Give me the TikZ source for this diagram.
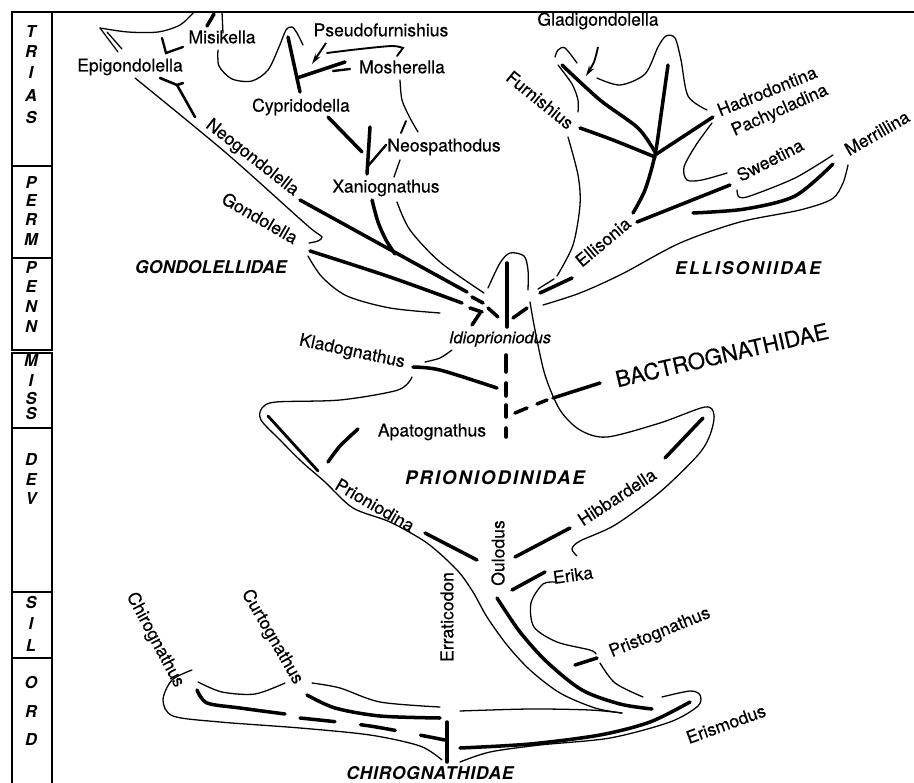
\documentclass[tikz,border=0pt]{standalone}
\usepackage{fontspec}
\setmainfont{TeX Gyre Heros}
\newfontfamily\taxonfont[FakeBold=0.4]{TeX Gyre Heros}
\usetikzlibrary{arrows.meta}

\begin{document}
\begin{tikzpicture}[x=0.03cm,y=-0.03cm,
    lineage/.style={line width=3pt,line cap=round},
    rim/.style={line width=1.1pt,line cap=round},
    pointer/.style={line width=1.6pt,-{Stealth[length=9pt,width=5pt]}},
    taxon/.style={font=\taxonfont\fontsize{15}{17}\selectfont,inner sep=1pt},
    family/.style={font=\fontsize{15}{17}\selectfont\bfseries\itshape},
    period/.style={font=\fontsize{14}{16}\selectfont\bfseries\itshape}]
    \useasboundingbox (0,0) rectangle (914,783);

    % time scale
    \draw[line width=2pt] (12,12) -- (914,12);
    \foreach \top/\bot in {12/166,166/258,258/350,353/428,428/592,592/658,658/800}
      \draw[line width=1.6pt] (12,\top) rectangle (52,\bot);
    \foreach \y/\l in {32/T,52/R,73/I,96/A,118/S,183/P,201/E,220/R,240/M,
                       268/P,287/E,307/N,327/N,361/M,381/I,399/S,414/S,
                       460/D,480/E,499/V,603/S,624/I,646/L,683/O,712/R,740/D}
      \node[period] at (31,\y) {\l};

    % Gondolellidae
    \draw[rim] plot[smooth] coordinates {(194,12) (180,25) (158,32) (128,32) (100,28)};
    \draw[rim] (100,28) -- (118,52);
    \draw[rim] (107,32) -- (122,49);
    \draw[lineage] (207,26) -- (214,14);
    \draw[rim] (222,12) -- (223,33);
    \draw[lineage,line width=2pt] (162,38) -- (166,53) -- (183,47);
    \draw[rim] plot[smooth] coordinates {(218,50) (219,66) (232,79) (252,81) (268,70) (279,47) (286,30) (292,27) (297,33) (303,45)};
    \draw[lineage] (288,37) -- (300,92);
    \draw[lineage] (297,78) -- (345,62);
    \draw[lineage,line width=2pt] (333,71) -- (350,69);
    \draw[pointer] (326,43) -- (312,64);
    \draw[rim,line width=1.6pt] plot[smooth] coordinates {(327,53) (360,49) (392,46) (403,48)} -- (397,56);
    \draw[rim] plot[smooth] coordinates {(400,80) (402,100) (410,118) (418,132)};
    \draw[rim,line width=1.6pt] (406,121) -- (401,133);
    \draw[rim] (400,160) -- (394,177);
    \draw[lineage] (328,117) -- (362,152);
    \draw[lineage] (370,127) -- (367,174);
    \draw[lineage,line width=2pt] (368,166) -- (386,145);
    \draw[lineage,line width=2.2pt] (160,78) -- (177,85) -- (195,117);
    \draw[lineage,line width=2.2pt] (177,85) -- (183,83);
    \draw[rim] plot[smooth] coordinates {(135,78) (225,152) (300,219) (314,231) (322,237) (318,241) (309,243)};
    \draw[lineage] (300,200) -- (467,292);
    \draw[lineage] (472,297) -- (483,303);
    \draw[lineage] plot[smooth] coordinates {(310,251) (390,277) (462,303)};
    \draw[lineage] (470,308) -- (482,312);
    \draw[rim] plot[smooth] coordinates {(308,256) (322,277) (347,296) (390,308) (440,313)};
    \draw[lineage] plot[smooth] coordinates {(372,200) (378,222) (386,240) (395,254)};
    \draw[rim] plot[smooth] coordinates {(397,202) (410,230) (440,262) (484,293)};

    % Idioprioniodus
    \draw[rim] plot[smooth] coordinates {(488,288) (500,263) (510,253) (524,256) (528,270) (528,290)};
    \draw[lineage] (507,263) -- (507,327);
    \draw[lineage] (480,313) -- (472,325);
    \draw[lineage] (488,308) -- (498,317);
    \draw[lineage] (513,318) -- (527,308);

    % Ellisoniidae
    \draw[rim] plot[smooth] coordinates {(555,57) (558,50) (565,48) (577,63)};
    \draw[rim] plot[smooth] coordinates {(558,65) (572,84) (578,100) (578,112)};
    \draw[rim] plot[smooth] coordinates {(568,137) (578,175) (580,205) (573,245) (557,276)};
    \draw[rim] (554,279) -- (538,289);
    \draw[lineage] plot[smooth] coordinates {(562,65) (600,100) (638,128) (655,152)};
    \draw[lineage] plot[smooth] coordinates {(668,65) (661,115) (655,155) (645,190) (633,213)};
    \draw[lineage] (655,155) -- (713,117);
    \draw[lineage] plot[smooth] coordinates {(580,128) (613,140) (655,157)};
    \draw[rim] plot[smooth] coordinates {(597,78) (620,85) (645,74) (658,47) (666,36) (675,38) (681,60) (688,96) (707,110)};
    \draw[pointer] plot[smooth] coordinates {(598,47) (594,62) (586,76)};
    \draw[rim] plot[smooth] coordinates {(712,123) (696,145) (684,167) (687,180) (702,180) (727,173)};
    \draw[lineage] (637,222) -- (730,185);
    \draw[rim] plot[smooth] coordinates {(737,190) (739,197) (750,196) (795,178) (833,155)};
    \draw[lineage] plot[smooth] coordinates {(693,213) (745,209) (795,196) (833,164)};
    \draw[rim] plot[smooth] coordinates {(543,305) (580,293) (622,274) (680,243) (740,222) (800,210) (832,199) (843,183) (848,165)};
    \draw[lineage] (540,293) -- (572,278);

    % Bactrognathidae and Prioniodinidae
    \draw[rim] plot[smooth] coordinates {(425,362) (440,358) (452,350)};
    \draw[lineage] plot[smooth] coordinates {(413,367) (440,370) (497,388)};
    \foreach \a/\b in {355/372,383/396,405/417,428/437}
      \draw[lineage] (506,\a) -- (506,\b);
    \draw[lineage] (515,413) -- (527,408);
    \draw[lineage] (537,404) -- (547,400);
    \draw[lineage] (553,398) -- (600,383);
    \draw[rim] plot[smooth] coordinates {(530,302) (535,330) (545,375) (560,410) (580,430) (607,437) (660,423) (705,407) (714,415) (710,435) (698,455) (660,492) (615,525) (580,541) (572,549) (577,556)};
    \draw[lineage] (703,418) -- (665,458);
    \draw[rim] plot[smooth] coordinates {(412,377) (398,390) (340,400) (276,402) (262,408) (261,420) (280,440) (302,462) (325,482) (353,508) (390,522) (427,543) (457,570) (473,592) (487,617) (507,645) (530,670) (560,693) (595,708) (622,713)};
    \draw[lineage,line width=2.4pt] (268,416) -- (318,471);
    \draw[lineage] (425,533) -- (477,560);
    \draw[lineage] plot[smooth] coordinates {(328,462) (340,446) (358,429)};
    \draw[lineage] (515,557) -- (570,528);
    \draw[lineage] (512,590) -- (545,572);
    \draw[rim] plot[smooth] coordinates {(557,582) (543,584) (531,603) (534,627) (557,642) (590,650) (596,654)};
    \draw[lineage] (575,665) -- (597,658);
    \draw[rim] plot[smooth] coordinates {(600,663) (615,683) (643,697)};
    \draw[lineage] plot[smooth] coordinates {(497,598) (520,632) (547,662) (582,690) (620,704) (652,709)};

    % Chirognathidae
    \draw[rim] plot[smooth] coordinates {(192,670) (172,680) (163,700) (173,716) (220,722) (300,728) (370,735) (420,746) (442,760)};
    \draw[rim] plot[smooth] coordinates {(198,682) (222,692) (255,694) (285,683)};
    \draw[lineage] plot[smooth] coordinates {(197,690) (207,703) (240,708) (285,714)};
    \draw[lineage,dash pattern=on 30pt off 22pt] plot[smooth] coordinates {(300,718) (370,726) (445,740)};
    \draw[rim] plot[smooth] coordinates {(312,683) (340,688) (380,702) (440,707)};
    \draw[lineage] plot[smooth] coordinates {(307,695) (335,708) (380,716) (440,718)};
    \draw[lineage] (447,722) -- (447,762);
    \draw[rim] plot[smooth] coordinates {(460,711) (530,709) (590,710) (622,713)};
    \draw[lineage] plot[smooth] coordinates {(460,748) (530,744) (600,735) (650,722) (690,702)};
    \draw[rim] plot[smooth] coordinates {(460,762) (490,752) (540,745) (610,738) (670,722) (698,706) (700,695) (690,691) (662,697)};

    % names
    \node[taxon] (misikella) at (222,37) {Misikella};
    \node[taxon] (epigond) at (130,67) {Epigondolella};
    \node[taxon] (pseudof) at (381,30) {Pseudofurnishius};
    \node[taxon] (mosher) at (402,67) {Mosherella};
    \node[taxon] (cyprid) at (301,107) {Cypridodella};
    \node[taxon] (neospath) at (444,147) {Neospathodus};
    \node[taxon] (xanio) at (386,188) {Xaniognathus};
    \node[taxon,rotate=-38] (neogond) at (252,158) {Neogondolella};
    \node[taxon,rotate=-30] (gond) at (260,218) {Gondolella};
    \node[taxon] (gladi) at (598,21) {Gladigondolella};
    \node[taxon,rotate=-39] (furnish) at (540,100) {Furnishius};
    \node[taxon,rotate=22] (hadro) at (767,91) {Hadrodontina};
    \node[taxon,rotate=24] (pachy) at (780,111) {Pachycladina};
    \node[taxon,rotate=27] (sweet) at (770,160) {Sweetina};
    \node[taxon,rotate=30] (merril) at (877,133) {Merrillina};
    \node[taxon,rotate=40] (elli) at (603,242) {Ellisonia};
    \node[taxon,font=\taxonfont\fontsize{14}{16}\selectfont\itshape] (idio) at (500,339) {Idioprioniodus};
    \node[taxon,rotate=-12] (klado) at (352,352) {Kladognathus};
    \node[taxon] (apato) at (432,432) {Apatognathus};
    \node[taxon,rotate=-30] (prion) at (375,505) {Prioniodina};
    \node[taxon,rotate=33] (hibb) at (617,497) {Hibbardella};
    \node[taxon,rotate=90] (oulo) at (498,553) {Oulodus};
    \node[taxon,rotate=8] (erika) at (573,575) {Erika};
    \node[taxon,rotate=22] (pristo) at (660,633) {Pristognathus};
    \node[taxon,rotate=20] (erismo) at (726,724) {Erismodus};
    \node[taxon,rotate=-62] (chiro) at (155,640) {Chirognathus};
    \node[taxon,rotate=-60] (curto) at (272,637) {Curtognathus};
    \node[taxon,rotate=90] (errat) at (447,617) {Erraticodon};

    \node[family] (gondfam) at (211,267) {GONDOLELLIDAE};
    \node[family,font=\fontsize{15}{17}\selectfont\bfseries\itshape\addfontfeature{LetterSpace=12}] (ellifam) at (748,268) {ELLISONIIDAE};
    \node[taxon,font=\taxonfont\fontsize{19}{21}\selectfont,rotate=13] (bactfam) at (722,355) {BACTROGNATHIDAE};
    \node[family,font=\fontsize{16}{18}\selectfont\bfseries\itshape\addfontfeature{LetterSpace=10}] (prionfam) at (495,478) {PRIONIODINIDAE};
    \node[family,font=\fontsize{15}{17}\selectfont\bfseries\itshape\addfontfeature{LetterSpace=4}] (chirofam) at (430,773) {CHIROGNATHIDAE};
\end{tikzpicture}
\end{document}
